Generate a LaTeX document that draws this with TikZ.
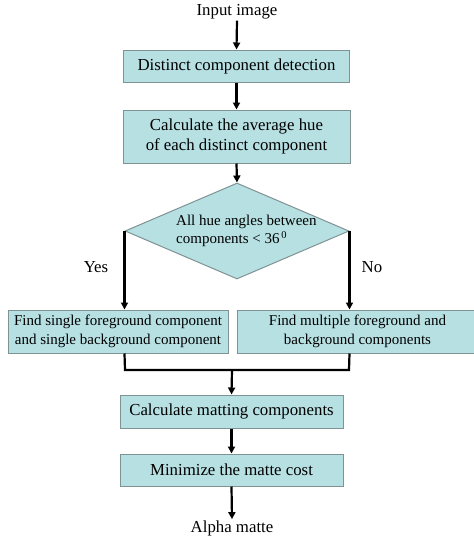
\documentclass[tikz,border=0pt]{standalone}
\usepackage{fontspec}
\setmainfont{Liberation Serif}
\usetikzlibrary{shapes.geometric,arrows.meta}
\definecolor{boxfill}{HTML}{B7E0E3}
\definecolor{boxline}{HTML}{7F9294}
\begin{document}
\begin{tikzpicture}[x=1pt,y=-1pt,
  big/.style={font=\fontsize{16.8}{19.5}\selectfont},
  small/.style={font=\fontsize{15}{18.5}\selectfont},
  txt/.style={big, inner sep=1pt},
  box/.style={draw=boxline, fill=boxfill, line width=1pt, inner sep=0pt,
    align=center, big},
  decision/.style={diamond, draw=boxline, fill=boxfill, line width=1pt,
    inner sep=0pt, minimum width=224pt, minimum height=96pt},
  flow/.style={line width=2.2pt, -{Triangle[length=7pt,width=7pt]}},
  link/.style={line width=2.2pt}]
\useasboundingbox (0,0) rectangle (474,542);

% main chain
\node[txt] (in) at (237,12) {Input image};
\node[box, minimum width=226pt, minimum height=32pt] (b1) at (236.5,66)
  {Distinct component detection};
\node[box, minimum width=227pt, minimum height=53pt] (b2) at (236.5,136.5)
  {Calculate the average hue\\of each distinct component};
\node[decision] (dia) at (237,231) {};
\node[small, inner sep=1pt, align=left, anchor=west] (dtxt) at (175,231)
  {All hue angles between\\components < 36\textsuperscript{\,0}};

% branch labels
\node[txt] (yes) at (96,267) {Yes};
\node[txt] (no) at (372,267) {No};

% branch boxes
\node[box, small, minimum width=220pt, minimum height=43pt] (b3) at (118,331.5)
  {Find single foreground component\\and single background component};
\node[box, small, minimum width=241pt, minimum height=43pt] (b4) at (357.5,331.5)
  {Find multiple foreground and\\background components};

% lower chain
\node[box, minimum width=223pt, minimum height=33pt] (b5) at (231.5,411.5)
  {Calculate matting components};
\node[box, minimum width=223pt, minimum height=32pt] (b6) at (231.5,470)
  {Minimize the matte cost};
\node[txt] (out) at (232,528) {Alpha matte};

% junction points of the merge line
\coordinate (mL) at (125,370);
\coordinate (mR) at (349,370);
\coordinate (mC) at (232,370);

% connectors
\draw[flow] (in.south) -- (b1.north);
\draw[flow] (b1.south) -- (b2.north);
\draw[flow] (b2.south) -- (dia.north);
\draw[flow] (dia.west) -- (dia.west |- b3.north);
\draw[flow] (dia.east) -- (dia.east |- b4.north);
\draw[link, line join=miter] (dia.west |- b3.south) -- (mL) -- (mR) -- (dia.east |- b4.south);
\draw[flow] (mC) -- (b5.north);
\draw[flow] (b5.south) -- (b6.north);
\draw[flow] (b6.south) -- (out.north);
\end{tikzpicture}
\end{document}
